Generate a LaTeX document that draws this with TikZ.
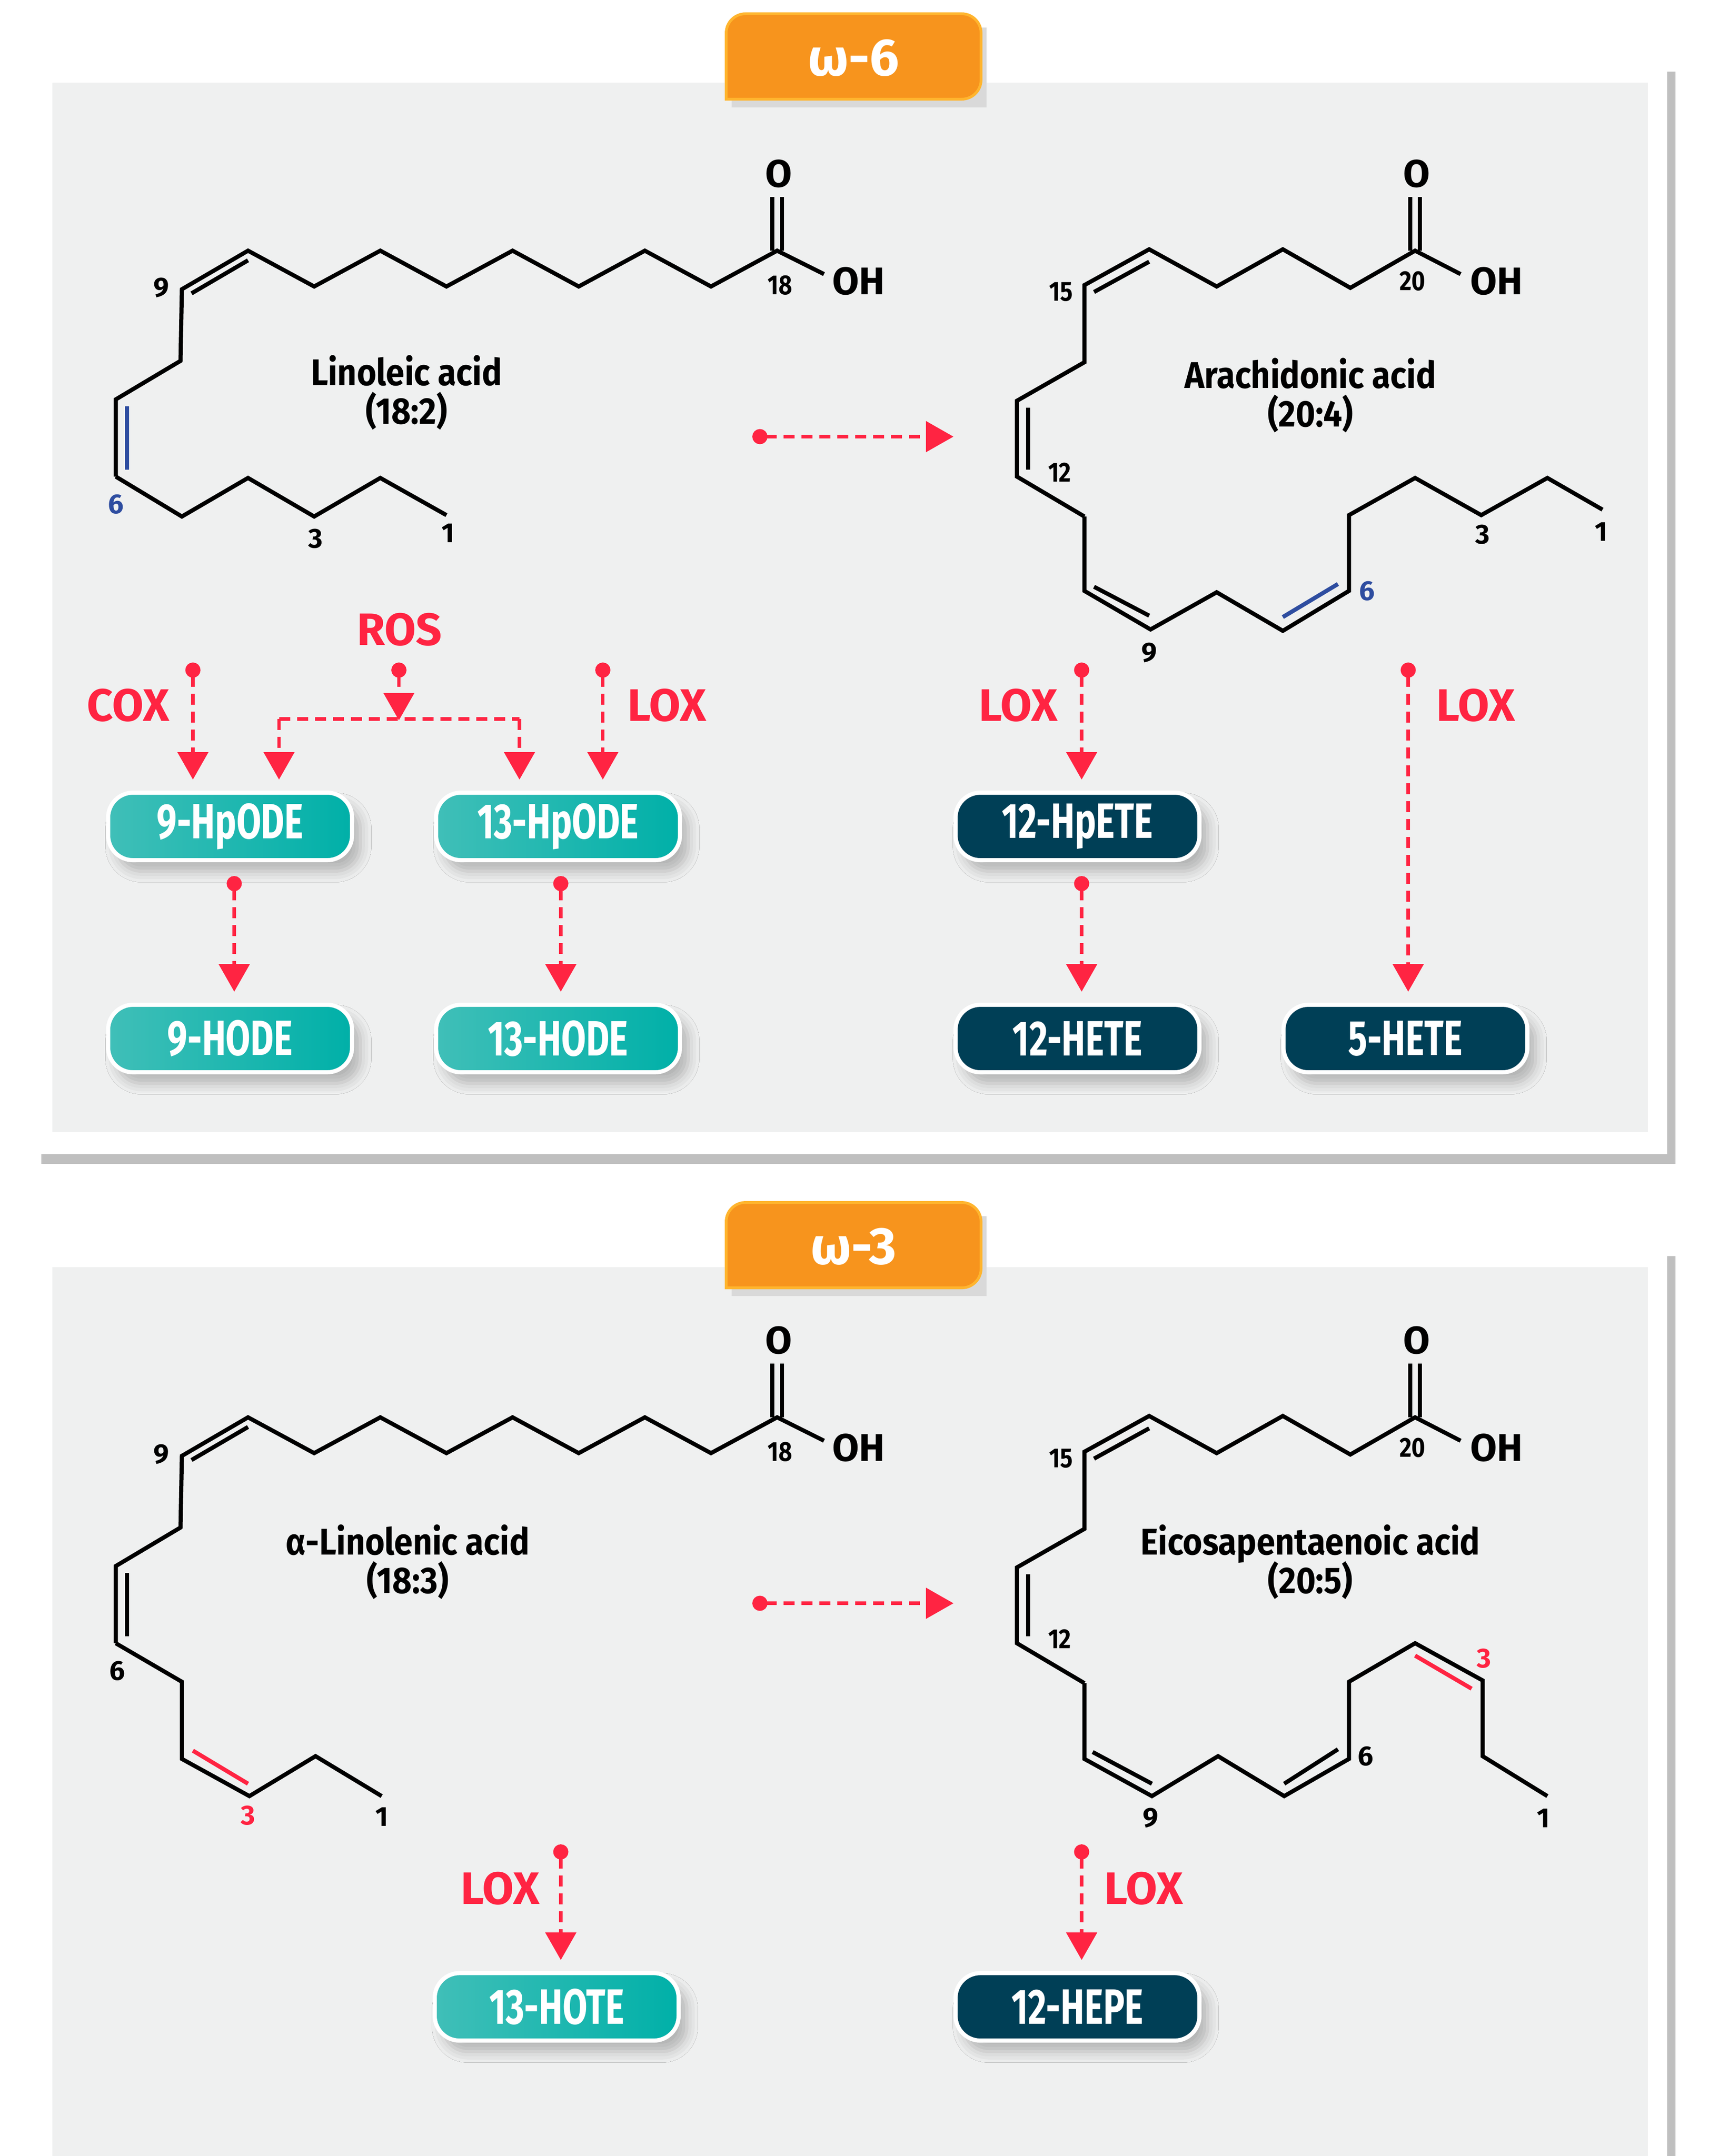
\documentclass[tikz,border=0pt]{standalone}
\usepackage{fontspec}
\setmainfont{Fira Sans}
\usetikzlibrary{arrows.meta,shadows.blur,shadows}
\definecolor{panel}{HTML}{EFF0F0}
\definecolor{rd}{HTML}{FF2442}
\definecolor{orng}{HTML}{F7941D}
\definecolor{orngl}{HTML}{FFB52E}
\definecolor{tealL}{HTML}{40BFB8}
\definecolor{tealR}{HTML}{00B0A8}
\definecolor{dk}{HTML}{003F56}
\definecolor{bl}{HTML}{2E4DA0}
\newcommand\cnd[2]{\scalebox{#1}[1]{#2}}
\tikzset{
 bond/.style={line width=3pt,line join=miter,black},
 inner/.style={line width=3pt},
 num/.style={font=\fontsize{20}{22}\selectfont\bfseries,inner sep=0pt},
 atom/.style={font=\fontsize{28}{30}\selectfont\bfseries,inner sep=0pt},
 acid/.style={font=\fontsize{27}{30}\selectfont\bfseries,align=center,inner sep=0pt},
 enz/.style={font=\fontsize{33}{35}\selectfont\bfseries,text=rd,inner sep=0pt},
 pbox/.style={rounded corners=18pt,minimum width=177pt,minimum height=49pt,draw=white,line width=3pt,
   font=\fontsize{36}{38}\selectfont\bfseries,text=white,inner sep=0pt,
   blur shadow={shadow xshift=6pt,shadow yshift=-8pt,shadow blur radius=8pt,shadow opacity=25}},
 tbox/.style={pbox,left color=tealL,right color=tealR},
 dbox/.style={pbox,fill=dk},
 flow/.style={rd,line width=2.6pt,dash pattern=on 8pt off 5pt,
   {Circle[length=11pt,width=11pt]}-{Triangle[length=20pt,width=22pt]}},
 flowj/.style={rd,line width=2.6pt,dash pattern=on 8pt off 5pt},
 tab/.style={fill=orng,draw=orngl,line width=2pt,rounded corners=14pt},
}
\begin{document}
\begin{tikzpicture}[x=1pt,y=-1pt]
\useasboundingbox (0,0) rectangle (1240,1565.3);
\fill[white] (0,0) rectangle (1240,1565.3);
% ---------- panels ----------
\foreach \dy/\lab in {0/6,860/3}{
 \begin{scope}[yshift=-\dy pt]
 \fill[black!25] (30,52) rectangle (1216,845);
 \fill[white] (24,45) rectangle (1210,838);
 \fill[panel] (38,60) rectangle (1196,822);
 \end{scope}
}
% top tab
\begin{scope}
 \fill[black!15] (531,20) rectangle (716,78);
 \path[tab] (527,72) -- (527,10) -- (712,10) -- (712,72) [sharp corners] -- cycle;
 \node[font=\fontsize{38}{40}\selectfont\bfseries,text=white] (t6) at (619.5,42) {ω-6};
\end{scope}
\begin{scope}[yshift=-863pt]
 \fill[black!15] (531,20) rectangle (716,78);
 \path[tab] (527,72) -- (527,10) -- (712,10) -- (712,72) [sharp corners] -- cycle;
 \node[font=\fontsize{38}{40}\selectfont\bfseries,text=white] (t3) at (619.5,42) {ω-3};
\end{scope}
% ---------- common top chains ----------
\foreach \dy in {0,847}{
 \begin{scope}[yshift=-\dy pt]
  % C18 acid
  \draw[bond] (598,199)--(564,182)--(516,208)--(468,182)--(420,208)--(372,182)--(324,208)--(276,182)--(228,208)--(180,182)--(132,210)--(131,262)--(84,290)--(84,346);
  \draw[bond] (560.5,182)--(560.5,143) (567.5,182)--(567.5,143);
  \draw[inner] (139,213)--(180,189);
  \node[atom] at (565,126) {O};
  \node[atom,anchor=west] at (604,204) {OH};
  \node[num] at (566,207) {\cnd{0.85}{18}};
  \node[num] at (117,209) {9};
  % C20 acid
  \draw[bond] (1060,199)--(1027,182)--(980,209)--(931,181)--(883,208)--(834,181)--(787,207)--(787,263)--(738,291)--(738,346)--(787,375);
  \draw[bond] (1023.5,182)--(1023.5,143) (1030.5,182)--(1030.5,143);
  \draw[inner] (794,212)--(834,190);
  \draw[inner] (746,296)--(746,341);
  \node[atom] at (1028,126) {O};
  \node[atom,anchor=west] at (1067,204) {OH};
  \node[num] at (1025,204) {\cnd{0.85}{20}};
  \node[num] at (770,212) {\cnd{0.85}{15}};
  \node[num] at (769,343) {\cnd{0.85}{12}};
  \draw[flow] (546,317) coordinate (s\dy) -- (692,317) coordinate (e\dy);
 \end{scope}
}
% Linoleic tail
\draw[inner,bl] (92,295)--(92,341);
\draw[bond] (84,346)--(132,375)--(180,347)--(228,375)--(276,347)--(324,374);
\node[num,text=bl] at (84,366) {6};
\node[num] at (229,391) {3};
\node[num] at (325,387) {1};
\node[acid] (la) at (295,285) {\cnd{0.9}{Linoleic acid}\\[-2pt]\cnd{0.9}{(18:2)}};
% Arachidonic tail
\draw[bond] (787,375)--(787,429)--(835,457)--(883,430)--(931,458)--(979,429)--(979,374)--(1027,347)--(1075,374)--(1123,347)--(1163,370);
\draw[inner] (794,426)--(834,447);
\draw[inner,bl] (931,448)--(971,424);
\node[num] at (834,474) {9};
\node[num,text=bl] at (992,429) {6};
\node[num] at (1076,388) {3};
\node[num] at (1162,386) {1};
\node[acid] (aa) at (951,287) {\cnd{0.9}{Arachidonic acid}\\[-2pt]\cnd{0.9}{(20:4)}};
% ALA tail
\begin{scope}[yshift=-847pt]
\draw[inner] (92,295)--(92,341);
\draw[bond] (84,346)--(132,374)--(132,430)--(181,457)--(229,428)--(277,457);
\draw[inner,rd] (140,424)--(180,448);
\node[num] at (85,366) {6};
\node[num,text=rd] at (180,471) {3};
\node[num] at (277,472) {1};
\node[acid] (ala) at (296,287) {\cnd{0.9}{α-Linolenic acid}\\[-2pt]\cnd{0.9}{(18:3)}};
% EPA tail
\draw[bond] (787,375)--(787,430)--(836,457)--(884,428)--(932,457)--(979,430)--(979,374)--(1027,346)--(1076,373)--(1076,428)--(1123,457);
\draw[inner] (793,425)--(836,448);
\draw[inner] (932,448)--(971,423);
\draw[inner,rd] (1027,355)--(1068,379);
\node[num] at (835,473) {9};
\node[num] at (991,428) {6};
\node[num,text=rd] at (1077,357) {3};
\node[num] at (1120,473) {1};
\node[acid] (epa) at (951,287) {\cnd{0.9}{Eicosapentaenoic acid}\\[-2pt]\cnd{0.9}{(20:5)}};
\end{scope}
% ---------- boxes ----------
\node[tbox] (b9p) at (167,600) {\cnd{0.72}{9-HpODE}};
\node[tbox] (b13p) at (405,600) {\cnd{0.72}{13-HpODE}};
\node[tbox] (b9) at (167,754) {\cnd{0.72}{9-HODE}};
\node[tbox] (b13) at (405,754) {\cnd{0.72}{13-HODE}};
\node[dbox] (b12p) at (782,600) {\cnd{0.72}{12-HpETE}};
\node[dbox] (b12) at (782,754) {\cnd{0.72}{12-HETE}};
\node[dbox] (b5) at (1020,754) {\cnd{0.72}{5-HETE}};
\node[tbox] (bht) at (404,1457) {\cnd{0.72}{13-HOTE}};
\node[dbox] (bhp) at (782,1457) {\cnd{0.72}{12-HEPE}};
% ---------- enzymes ----------
\node[enz] (ros) at (290,457) {ROS};
\node[enz] (cox) at (93,512) {COX};
\node[enz] (lox1) at (484,512) {LOX};
\node[enz] (lox2) at (739,512) {LOX};
\node[enz] (lox3) at (1071,512) {LOX};
\node[enz] (lox4) at (363,1371) {LOX};
\node[enz] (lox5) at (830,1371) {LOX};
% ---------- flows ----------
\coordinate (dcox) at (140,481);
\coordinate (dros) at (289.5,481);
\coordinate (dlox) at (437.5,481);
\coordinate (jr) at (289.5,522);
\coordinate (jL) at (202.5,522);
\coordinate (jR) at (377,522);
\draw[flow,shorten >=8pt] (dcox) -- (dcox |- b9p.north);
\draw[flow] (dros) -- ([yshift=-1pt]jr);
\draw[flowj] (jL) -- (jR);
\draw[flowj,-{Triangle[length=20pt,width=22pt]},shorten >=8pt] (jL) -- (jL |- b9p.north);
\draw[flowj,-{Triangle[length=20pt,width=22pt]},shorten >=8pt] (jR) -- (jR |- b13p.north);
\draw[flow,shorten >=8pt] (dlox) -- (dlox |- b13p.north);
\coordinate (d9) at (170,636);
\coordinate (d13) at (407,636);
\draw[flow,shorten >=8pt] (d9) -- (d9 |- b9.north);
\draw[flow,shorten >=8pt] (d13) -- (d13 |- b13.north);
\coordinate (d12a) at (785,481);
\coordinate (d12b) at (785,636);
\coordinate (d5) at (1022,481);
\draw[flow,shorten >=8pt] (d12a) -- (d12a |- b12p.north);
\draw[flow,shorten >=8pt] (d12b) -- (d12b |- b12.north);
\draw[flow,shorten >=8pt] (d5) -- (d5 |- b5.north);
\coordinate (dht) at (407,1339);
\coordinate (dhp) at (785,1339);
\draw[flow,shorten >=8pt] (dht) -- (dht |- bht.north);
\draw[flow,shorten >=8pt] (dhp) -- (dhp |- bhp.north);
\end{tikzpicture}
\end{document}
